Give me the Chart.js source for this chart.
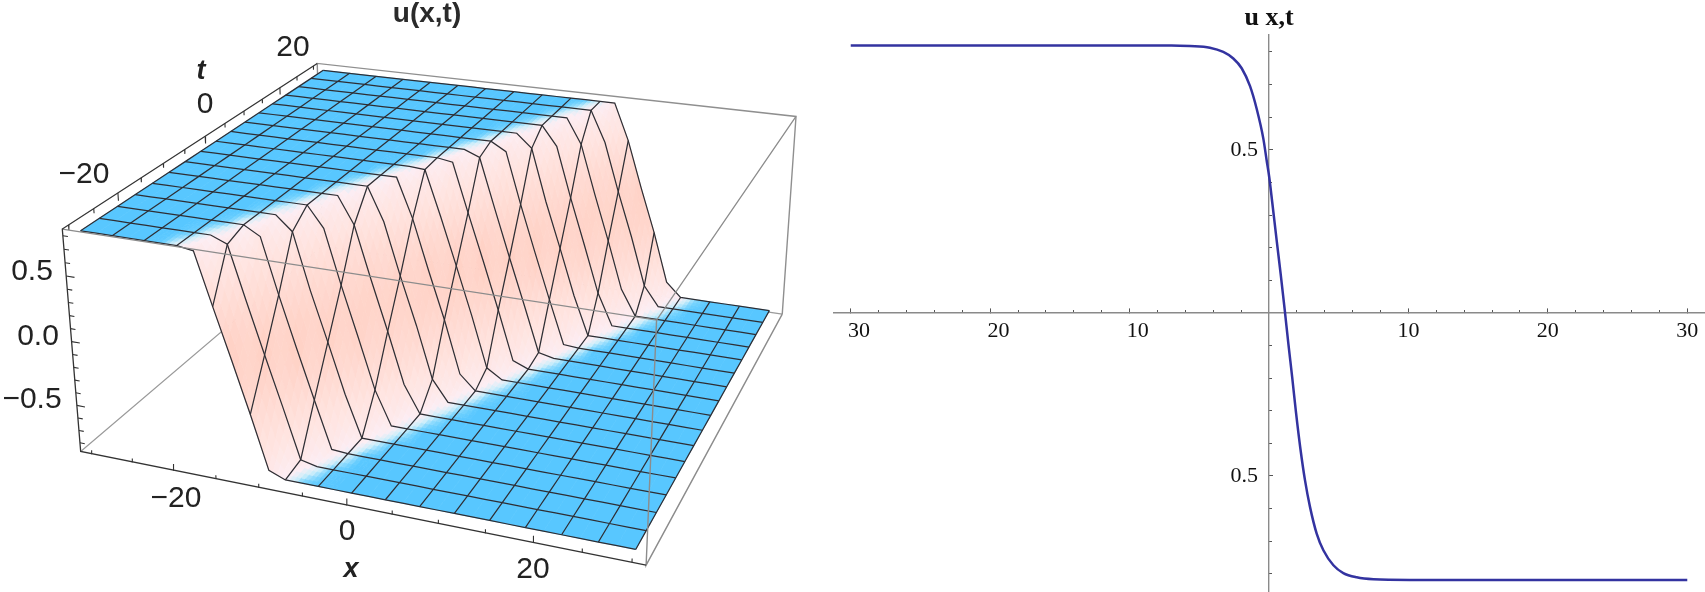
<!DOCTYPE html>
<html><head><meta charset="utf-8">
<style>html,body{margin:0;padding:0;background:#fff;overflow:hidden}
canvas{position:absolute;top:0}</style>
<script src="https://cdn.jsdelivr.net/npm/chart.js@4"></script>
</head><body>
<canvas id="left" width="854" height="592" style="left:0"></canvas>
<canvas id="right" width="875" height="592" style="left:830px"></canvas>
<script>
// ---------- right chart data ----------
const curveX=[-30,-20,-10,-7,-5.67,-4.24,-3.28,-2.56,-1.96,-1.36,-0.88,-0.41,-0.17,0.02,0.24,0.55,0.84,1.12,1.39,1.67,1.94,2.25,2.58,2.94,3.42,3.9,4.62,5.33,6.29,7.49,10.1,15,20,30];
const curveU=[0.82,0.82,0.82,0.82,0.818,0.813,0.8,0.78,0.75,0.695,0.625,0.535,0.468,0.415,0.336,0.222,0.118,0.012,-0.095,-0.2,-0.307,-0.416,-0.513,-0.595,-0.677,-0.728,-0.774,-0.798,-0.811,-0.817,-0.819,-0.819,-0.819,-0.819];
const xMajorTicks=[-30,-20,-10,10,20,30];
const xMinorTicks=[-30,-28,-26,-24,-22,-20,-18,-16,-14,-12,-10,-8,-6,-4,-2,2,4,6,8,10,12,14,16,18,20,22,24,26,28,30];
const yMajorTicks=[-0.5,0.5];
const yMinorTicks=[-0.8,-0.7,-0.6,-0.5,-0.4,-0.3,-0.2,-0.1,0.1,0.2,0.3,0.4,0.5,0.6,0.7,0.8];

// ---------- left chart data: u on the grid (rows: t, columns: x) ----------
const xGrid=[-30,-28.125,-26.25,-24.375,-22.5,-20.625,-18.75,-16.875,-15,-13.125,-11.25,-9.375,-7.5,-5.625,-3.75,-1.875,0,1.875,3.75,5.625,7.5,9.375,11.25,13.125,15,16.875,18.75,20.625,22.5,24.375,26.25,28.125,30];
const tGrid=[-30,-26.25,-22.5,-18.75,-15,-11.25,-7.5,-3.75,0,3.75,7.5,11.25,15,18.75,22.5,26.25,30];
const surfaceU=[
[.82,.82,.82,.82,.82,.82,.82,.80,.41,.03,-.36,-.77,-.82,-.82,-.82,-.82,-.82,-.82,-.82,-.82,-.82,-.82,-.82,-.82,-.82,-.82,-.82,-.82,-.82,-.82,-.82,-.82,-.82],
[.82,.82,.82,.82,.82,.82,.82,.82,.77,.37,-.02,-.40,-.79,-.82,-.82,-.82,-.82,-.82,-.82,-.82,-.82,-.82,-.82,-.82,-.82,-.82,-.82,-.82,-.82,-.82,-.82,-.82,-.82],
[.82,.82,.82,.82,.82,.82,.82,.82,.82,.75,.33,-.06,-.44,-.81,-.82,-.82,-.82,-.82,-.82,-.82,-.82,-.82,-.82,-.82,-.82,-.82,-.82,-.82,-.82,-.82,-.82,-.82,-.82],
[.82,.82,.82,.82,.82,.82,.82,.82,.82,.82,.71,.28,-.10,-.49,-.82,-.82,-.82,-.82,-.82,-.82,-.82,-.82,-.82,-.82,-.82,-.82,-.82,-.82,-.82,-.82,-.82,-.82,-.82],
[.82,.82,.82,.82,.82,.82,.82,.82,.82,.82,.82,.66,.24,-.15,-.55,-.82,-.82,-.82,-.82,-.82,-.82,-.82,-.82,-.82,-.82,-.82,-.82,-.82,-.82,-.82,-.82,-.82,-.82],
[.82,.82,.82,.82,.82,.82,.82,.82,.82,.82,.82,.82,.61,.20,-.19,-.60,-.82,-.82,-.82,-.82,-.82,-.82,-.82,-.82,-.82,-.82,-.82,-.82,-.82,-.82,-.82,-.82,-.82],
[.82,.82,.82,.82,.82,.82,.82,.82,.82,.82,.82,.82,.82,.56,.15,-.23,-.65,-.82,-.82,-.82,-.82,-.82,-.82,-.82,-.82,-.82,-.82,-.82,-.82,-.82,-.82,-.82,-.82],
[.82,.82,.82,.82,.82,.82,.82,.82,.82,.82,.82,.82,.82,.82,.51,.11,-.27,-.70,-.82,-.82,-.82,-.82,-.82,-.82,-.82,-.82,-.82,-.82,-.82,-.82,-.82,-.82,-.82],
[.82,.82,.82,.82,.82,.82,.82,.82,.82,.82,.82,.82,.82,.82,.81,.45,.07,-.32,-.74,-.82,-.82,-.82,-.82,-.82,-.82,-.82,-.82,-.82,-.82,-.82,-.82,-.82,-.82],
[.82,.82,.82,.82,.82,.82,.82,.82,.82,.82,.82,.82,.82,.82,.82,.80,.41,.03,-.36,-.77,-.82,-.82,-.82,-.82,-.82,-.82,-.82,-.82,-.82,-.82,-.82,-.82,-.82],
[.82,.82,.82,.82,.82,.82,.82,.82,.82,.82,.82,.82,.82,.82,.82,.82,.77,.37,-.02,-.40,-.79,-.82,-.82,-.82,-.82,-.82,-.82,-.82,-.82,-.82,-.82,-.82,-.82],
[.82,.82,.82,.82,.82,.82,.82,.82,.82,.82,.82,.82,.82,.82,.82,.82,.82,.75,.33,-.06,-.44,-.81,-.82,-.82,-.82,-.82,-.82,-.82,-.82,-.82,-.82,-.82,-.82],
[.82,.82,.82,.82,.82,.82,.82,.82,.82,.82,.82,.82,.82,.82,.82,.82,.82,.82,.71,.28,-.10,-.49,-.82,-.82,-.82,-.82,-.82,-.82,-.82,-.82,-.82,-.82,-.82],
[.82,.82,.82,.82,.82,.82,.82,.82,.82,.82,.82,.82,.82,.82,.82,.82,.82,.82,.82,.66,.24,-.15,-.55,-.82,-.82,-.82,-.82,-.82,-.82,-.82,-.82,-.82,-.82],
[.82,.82,.82,.82,.82,.82,.82,.82,.82,.82,.82,.82,.82,.82,.82,.82,.82,.82,.82,.82,.61,.20,-.19,-.60,-.82,-.82,-.82,-.82,-.82,-.82,-.82,-.82,-.82],
[.82,.82,.82,.82,.82,.82,.82,.82,.82,.82,.82,.82,.82,.82,.82,.82,.82,.82,.82,.82,.82,.56,.15,-.23,-.65,-.82,-.82,-.82,-.82,-.82,-.82,-.82,-.82],
[.82,.82,.82,.82,.82,.82,.82,.82,.82,.82,.82,.82,.82,.82,.82,.82,.82,.82,.82,.82,.82,.82,.51,.11,-.27,-.70,-.82,-.82,-.82,-.82,-.82,-.82,-.82]
];
const xAxisTicks=[-30,-25,-20,-15,-10,-5,0,5,10,15,20,25,30];
const tAxisTicks=[-30,-25,-20,-15,-10,-5,0,5,10,15,20,25,30];
const zAxisTicks=[-0.8,-0.7,-0.6,-0.5,-0.4,-0.3,-0.2,-0.1,0,0.1,0.2,0.3,0.4,0.5,0.6,0.7,0.8];
const leftLabels=[
 {s:'\u221220',x:84,y:175},{s:'0',x:205,y:105},{s:'20',x:293,y:48},
 {s:'0.5',x:32,y:272},{s:'0.0',x:38,y:337},{s:'\u22120.5',x:32,y:400},
 {s:'\u221220',x:176,y:499},{s:'0',x:347,y:532},{s:'20',x:533,y:570}];
const axisNames=[{s:'t',x:201,y:72},{s:'x',x:351,y:570}];

// ---------- camera calibration from box / surface corners ----------
const XMIN=-31.4,XMAX=31.4,TMIN=-31.2,TMAX=31.2,ZLO=-.87,ZHI=.85;
const calib=[
 [XMIN,TMIN,ZHI,61,228],[XMIN,TMIN,ZLO,81,452],[XMIN,TMAX,ZHI,320,63],[XMAX,TMAX,ZHI,796,117],
 [XMAX,TMAX,ZLO,782,313],[XMAX,TMIN,ZHI,657,320],[XMAX,TMIN,ZLO,645,565],
 [-30,-30,.82,82,231],[-30,30,.82,320,71],[30,-30,-.82,636,550],[30,30,-.82,770,311]];
function solveCamera(){
 const n=11,A=Array.from({length:n},()=>new Array(n+1).fill(0));
 const add=(r,b)=>{for(let i=0;i<n;i++){for(let j=0;j<n;j++)A[i][j]+=r[i]*r[j];A[i][n]+=r[i]*b;}};
 for(const [x0,t0,z,X0,Y0] of calib){const x=x0/30,t=t0/30,X=X0/1000,Y=Y0/1000;
  add([x,t,z,1,0,0,0,0,-X*x,-X*t,-X*z],X);
  add([0,0,0,0,x,t,z,1,-Y*x,-Y*t,-Y*z],Y);}
 for(let c=0;c<n;c++){let p=c;for(let r=c+1;r<n;r++)if(Math.abs(A[r][c])>Math.abs(A[p][c]))p=r;
  [A[c],A[p]]=[A[p],A[c]];
  for(let r=0;r<n;r++)if(r!==c){const f=A[r][c]/A[c][c];for(let k=c;k<=n;k++)A[r][k]-=f*A[c][k];}}
 return A.map((row,i)=>row[n]/row[i]);
}
const P=solveCamera();
function project(x0,t0,z){const x=x0/30,t=t0/30,w=P[8]*x+P[9]*t+P[10]*z+1;
 return {x:1000*(P[0]*x+P[1]*t+P[2]*z+P[3])/w,y:1000*(P[4]*x+P[5]*t+P[6]*z+P[7])/w};}

// ---------- datasets ----------
const BREAK={x:null,y:null};
function line(data,color,width,order){return {data,borderColor:color,borderWidth:width,order,showLine:true,pointRadius:0,fill:false,tension:0,spanGaps:false};}
function seg(...pts){const out=[];pts.forEach(p=>out.push(project(...p)));return out;}
const datasets=[];
datasets.push(line(seg([XMIN,TMIN,ZLO],[XMIN,TMAX,ZLO],[XMAX,TMAX,ZLO]),'#9a9a9a',1.2,30));
datasets.push(line(seg([XMIN,TMAX,ZLO],[XMIN,TMAX,ZHI],[XMAX,TMAX,ZHI],[XMAX,TMAX,ZLO]),'#8f8f8f',1.4,30));
const surfaceMarker=line([],'rgba(0,0,0,0)',0,20); surfaceMarker.label='surface'; datasets.push(surfaceMarker);
tGrid.forEach((t,j)=>datasets.push(line(xGrid.map((x,i)=>project(x,t,surfaceU[j][i])),'#2e2e34',1.25,10)));
xGrid.forEach((x,i)=>{if(i%2===0)datasets.push(line(tGrid.map((t,j)=>project(x,t,surfaceU[j][i])),'#2e2e34',1.25,10));});
datasets.push(line(seg([XMIN,TMIN,ZHI],[XMAX,TMIN,ZHI],[XMAX,TMAX,ZHI]),'#8c8c8c',1.3,5));
datasets.push(line(seg([XMAX,TMIN,ZHI],[XMAX,TMIN,ZLO],[XMAX,TMAX,ZLO]),'#8c8c8c',1.4,5));
datasets.push(line(seg([XMIN,TMAX,ZHI],[XMIN,TMIN,ZHI],[XMIN,TMIN,ZLO],[XMAX,TMIN,ZLO]),'#333',1.3,2));
const tickPts=[];
xAxisTicks.forEach(v=>{const L=v%20===0?.05:.028;tickPts.push(project(v,TMIN,ZLO),project(v,TMIN,ZLO+L),BREAK);});
tAxisTicks.forEach(v=>{const L=v%20===0?.06:.035;tickPts.push(project(XMIN,v,ZHI),project(XMIN,v,ZHI-L),BREAK);});
zAxisTicks.forEach(v=>{const L=Math.abs(v*10%5)<.01?1:.6;tickPts.push(project(XMIN,TMIN,v),project(XMIN+L,TMIN,v),BREAK);});
datasets.push(line(tickPts,'#333',1.1,2));

// ---------- shading ----------
const stops=[[0,[88,199,255]],[.03,[112,209,254]],[.13,[205,238,250]],[.26,[252,238,244]],[.5,[255,228,224]],[.78,[255,207,194]],[1.2,[255,200,186]]];
function shade(s){for(let k=1;k<stops.length;k++){if(s<=stops[k][0]){const a=stops[k-1],b=stops[k],f=(s-a[0])/(b[0]-a[0]);
  return a[1].map((c,m)=>c+(b[1][m]-c)*f);}}return stops[stops.length-1][1];}
function steep(j,i){const r=surfaceU[j],a=r[Math.max(i-2,0)],b=r[Math.min(i+2,r.length-1)];
 return Math.abs(a-b)*.5;}
const mix=(a,b,f)=>a+(b-a)*f;
const surfacePlugin={id:'surface',beforeDatasetDraw(chart,args){
 if(chart.data.datasets[args.index].label!=='surface')return;
 const ctx=chart.ctx,sx=chart.scales.x,sy=chart.scales.y,N=4;
 ctx.save();ctx.lineWidth=.7;ctx.lineJoin='round';
 for(let j=tGrid.length-2;j>=0;j--)for(let i=0;i<xGrid.length-1;i++){
  const u=[surfaceU[j][i],surfaceU[j][i+1],surfaceU[j+1][i],surfaceU[j+1][i+1]];
  const s=[steep(j,i),steep(j,i+1),steep(j+1,i),steep(j+1,i+1)];
  const flat=Math.max(...s)<.001,n=flat?1:N;
  for(let a=0;a<n;a++)for(let b=0;b<n;b++){
   const corner=(p,q)=>{const x=mix(xGrid[i],xGrid[i+1],p),t=mix(tGrid[j],tGrid[j+1],q),
     z=mix(mix(u[0],u[1],p),mix(u[2],u[3],p),q),pr=project(x,t,z);
     return [sx.getPixelForValue(pr.x),sy.getPixelForValue(pr.y)];};
   const p0=corner(a/n,b/n),p1=corner((a+1)/n,b/n),p2=corner((a+1)/n,(b+1)/n),p3=corner(a/n,(b+1)/n);
   const pc=(a+.5)/n,qc=(b+.5)/n,val=mix(mix(s[0],s[1],pc),mix(s[2],s[3],pc),qc);
   const c=shade(val),col=`rgb(${c.map(Math.round).join(',')})`;
   ctx.fillStyle=col;ctx.strokeStyle=col;ctx.beginPath();ctx.moveTo(...p0);ctx.lineTo(...p1);ctx.lineTo(...p2);ctx.lineTo(...p3);ctx.closePath();ctx.fill();ctx.stroke();
  }}
 ctx.restore();
},afterDraw(chart){
 const ctx=chart.ctx;ctx.save();ctx.textAlign='center';ctx.textBaseline='middle';ctx.fillStyle='#222';
 ctx.font='30px "Liberation Sans"';leftLabels.forEach(l=>ctx.fillText(l.s,l.x,l.y));
 ctx.font='italic bold 27px "Liberation Sans"';axisNames.forEach(l=>ctx.fillText(l.s,l.x,l.y));
 ctx.restore();
}};

new Chart(document.getElementById('left'),{type:'scatter',
 data:{datasets},plugins:[surfacePlugin],
 options:{responsive:false,animation:false,devicePixelRatio:1,events:[],layout:{padding:0},
  plugins:{legend:{display:false},tooltip:{enabled:false},
   title:{display:true,text:'u(x,t)',color:'#2a2a2a',font:{family:'"Liberation Sans"',size:28,weight:'bold',lineHeight:1},padding:{top:0,bottom:4}}},
  scales:{x:{type:'linear',display:false,min:0,max:854},y:{type:'linear',display:false,min:32,max:592,reverse:true}}}});

// ---------- right chart ----------
const axisColor='#8a8a8a',tickColor='#555';
function fixedTicks(list){return s=>{s.ticks=list.map(value=>({value}));};}
function noPadding(s){s.paddingLeft=s.paddingRight=s.paddingTop=s.paddingBottom=0;}
const XR=[-31.2,31.2],YR=[-.853,.852];
new Chart(document.getElementById('right'),{type:'scatter',
 data:{datasets:[{data:curveX.map((x,i)=>({x,y:curveU[i]})),showLine:true,pointRadius:0,borderColor:'#3333a0',borderWidth:2.5,cubicInterpolationMode:'monotone',xAxisID:'x',yAxisID:'y',clip:false}]},
 options:{responsive:false,animation:false,devicePixelRatio:1,events:[],layout:{padding:{left:4,right:1,bottom:1,top:0}},
  plugins:{legend:{display:false},tooltip:{enabled:false},
   title:{display:true,text:'u x,t',color:'#111',font:{family:'"Liberation Serif"',size:26,weight:'bold',lineHeight:1},padding:{top:5,bottom:4}}},
  scales:{
   x:{type:'linear',min:XR[0],max:XR[1],position:{y:0},afterBuildTicks:fixedTicks(xMajorTicks),afterFit:noPadding,
      border:{color:axisColor,width:1.4},grid:{drawOnChartArea:false,drawTicks:true,tickLength:-5,tickColor,tickWidth:1},
      ticks:{autoSkip:false,maxRotation:0,padding:10,color:'#111',font:{family:'"Liberation Serif"',size:22},callback:v=>(v<0?'\u00a0\u00a0\u00a0':'')+String(Math.abs(v))}},
   xMinor:{type:'linear',axis:'x',min:XR[0],max:XR[1],position:{y:0},afterBuildTicks:fixedTicks(xMinorTicks),afterFit:noPadding,
      border:{display:false},grid:{drawOnChartArea:false,drawTicks:true,tickLength:-3,tickColor,tickWidth:1},ticks:{display:false}},
   y:{type:'linear',min:YR[0],max:YR[1],position:{x:0},afterBuildTicks:fixedTicks(yMajorTicks),afterFit:noPadding,
      border:{color:axisColor,width:1.4},grid:{drawOnChartArea:false,drawTicks:true,tickLength:-5,tickColor,tickWidth:1},
      ticks:{autoSkip:false,padding:0,color:'#111',font:{family:'"Liberation Serif"',size:22},callback:v=>Math.abs(v).toFixed(1)+'\u00a0\u00a0'}},
   yMinor:{type:'linear',axis:'y',min:YR[0],max:YR[1],position:{x:0},afterBuildTicks:fixedTicks(yMinorTicks),afterFit:noPadding,
      border:{display:false},grid:{drawOnChartArea:false,drawTicks:true,tickLength:-3,tickColor,tickWidth:1},ticks:{display:false}}
  }}});
</script>
</body></html>
